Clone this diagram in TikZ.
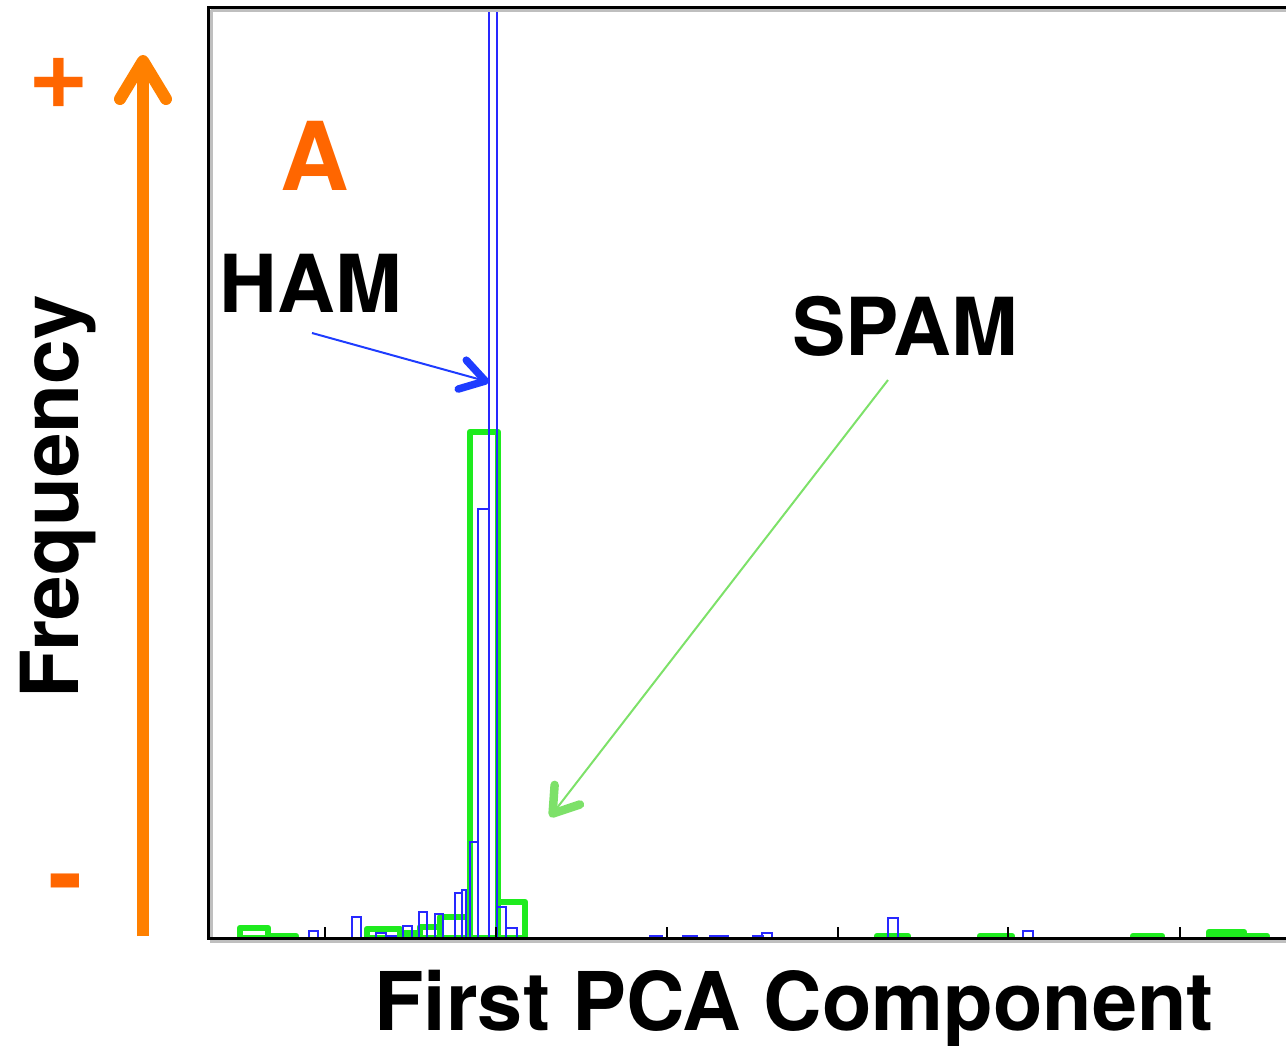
\documentclass[tikz,border=0pt]{standalone}
\usepackage{fontspec}
\setmainfont{TeX Gyre Heros}
\usetikzlibrary{arrows.meta}

\definecolor{histblue}{RGB}{40,40,255}
\definecolor{histgreen}{RGB}{30,235,30}
\definecolor{labelorange}{RGB}{255,102,0}
\definecolor{axisorange}{RGB}{255,128,0}
\definecolor{hamblue}{RGB}{30,60,255}
\definecolor{spamgreen}{RGB}{125,225,105}

\tikzset{
  label/.style={inner sep=0pt, font=\bfseries\fontsize{80}{90}\selectfont},
  signlabel/.style={inner sep=0pt, text=labelorange,
    font=\bfseries\fontsize{104}{110}\selectfont},
  frame/.style={line width=3pt, black},
  frameshade/.style={line width=3pt, black!25},
  tickmark/.style={line width=2pt, black},
  bluebar/.style={draw=histblue, line width=2pt},
  greenbar/.style={draw=histgreen, line width=6.5pt, line join=round},
  freqarrow/.style={draw=axisorange, line width=12pt,
    -{Straight Barb[round, length=38pt, width=46pt]}},
  hamarrow/.style={draw=hamblue, line width=2pt,
    -{Straight Barb[round, length=24pt, width=30pt, line width=7.5pt]}},
  spamarrow/.style={draw=spamgreen, line width=2pt,
    -{Straight Barb[round, length=24pt, width=32pt, line width=8.5pt]}},
}

\begin{document}
\begin{tikzpicture}[x=1pt, y=-1pt]
  \useasboundingbox (0,0) rectangle (1286,1045);

  % green histogram (spam)
  \foreach \xa/\xb/\top in {240/268/928, 268/296/936, 367/400/929, 400/420/933,
      420/440/927, 440/470/917, 470/498/432, 498/525/902, 877/908/936,
      980/1012/936, 1133/1162/936, 1209/1244/932, 1244/1267/936}
    \draw[greenbar] (\xa,938) rectangle (\xb,\top);

  % blue histogram (ham)
  \foreach \xa/\xb/\top in {309/318/931, 352/361/917, 376/386/933, 386/396/936,
      403/412/926, 419/427/912, 435/443/914, 455/462/893, 462/466/890,
      470/478/842, 478/489/509, 489/497/8, 497/506/907, 506/517/928,
      650/662/936, 683/697/936, 710/728/936, 753/763/936, 762/772/933,
      888/898/918, 1023/1033/931}
    \draw[bluebar] (\xa,938) rectangle (\xb,\top);

  % plot frame with its soft shade
  \draw[frameshade] (211,10) -- (211,941) -- (1286,941);
  \draw[frameshade] (211,10) -- (1286,10);
  \draw[frame] (1286,7) -- (208,7) -- (208,938) -- (1286,938);

  % axis ticks
  \foreach \x in {325,496,667,838,1008,1180}
    \draw[tickmark] (\x,938) -- (\x,927);

  % frequency axis arrow
  \coordinate (fbot) at (143,936);
  \coordinate (ftop) at (143,55);
  \draw[freqarrow] (fbot) -- (ftop);
  \node[signlabel] (plus) at (59,83) {+};
  \node[signlabel] (minus) at (66,892) {-};

  % labels
  \node[label, anchor=base, rotate=90] (freq) at (78,497) {Frequency};
  \node[label, anchor=base, font=\bfseries\fontsize{81}{90}\selectfont]
    (xlab) at (794,1030) {First PCA Component};
  \node[label, anchor=base, text=labelorange,
        font=\bfseries\fontsize{95}{100}\selectfont] (panel) at (315,190) {A};
  \node[label, anchor=base] (ham) at (311,312) {HAM};
  \node[label, anchor=base] (spam) at (905,355) {SPAM};

  % pointers to the peaks
  \coordinate (hamtail) at (312,333);
  \coordinate (hamtip) at (489,382);
  \coordinate (spamtail) at (888,380);
  \coordinate (spamtip) at (550,817);
  \draw[hamarrow] (hamtail) -- (hamtip);
  \draw[spamarrow] (spamtail) -- (spamtip);
\end{tikzpicture}
\end{document}
